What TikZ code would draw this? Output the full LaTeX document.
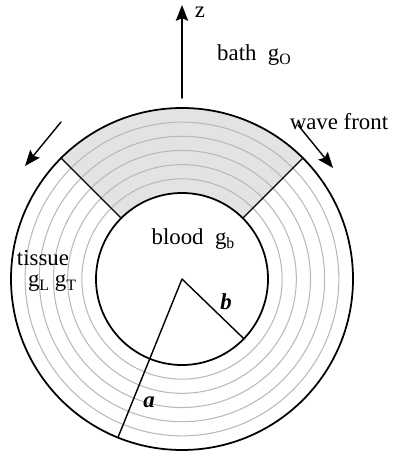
\documentclass[tikz,border=0pt]{standalone}
\usepackage{fontspec}
\setmainfont{Liberation Serif}
\usetikzlibrary{arrows.meta}
\newcommand\gsub[1]{g\raisebox{-0.4ex}{\small #1}}
\tikzset{
  ring/.style={gray!55,line width=0.6},
  rim/.style={black,line width=1.0},
  lbl/.style={inner sep=1pt,font=\fontsize{13}{15}\selectfont},
}
\begin{document}
\begin{tikzpicture}[x=0.02cm,y=0.02cm,line join=round,line cap=round,>={Stealth[length=9pt,width=7pt,inset=1.5pt]},line width=0.8]
  \useasboundingbox (-182,279) rectangle (212,-176);
  % shaded part between the wave fronts
  \fill[gray!22] (45:86) arc (45:135:86) -- (135:171) arc (135:45:171) -- cycle;
  \foreach \k in {1,...,5}
    \draw[ring] (0,0) circle ({86+14.17*\k});
  \draw[rim] (0,0) circle (171);
  \draw[rim] (0,0) circle (86);
  \draw (45:86) -- (45:171) (135:86) -- (135:171);
  % radii
  \coordinate (o) at (0,0);
  \coordinate (ra) at (248:171);
  \coordinate (rb) at (316:86);
  \draw (ra) -- (o) -- (rb);
  \node[lbl,font=\fontsize{13}{15}\selectfont\bfseries\itshape] (a) at (-33,-123) {a};
  \node[lbl,font=\fontsize{13}{15}\selectfont\bfseries\itshape] (b) at (44,-23) {b};
  % axis and labels
  \coordinate (zs) at (0,181);
  \coordinate (ze) at (0,274);
  \draw[->,line width=0.9] (zs) -- (ze);
  \node[lbl] (z) at (18,267) {z};
  \node[lbl] (bath) at (72,224) {bath\ \ \gsub{O}};
  \node[lbl] (wave) at (157,157) {wave front};
  \node[lbl] (blood) at (11,40) {blood\ \ \gsub{b}};
  \node[lbl] (tissue) at (-139,21) {tissue};
  \node[lbl] (gLT) at (-130,-4) {\gsub{L} \gsub{T}};
  % propagation of the front
  \coordinate (l1) at (-121,157);
  \coordinate (l2) at (-157,113);
  \coordinate (r1) at (116,154);
  \coordinate (r2) at (151,111);
  \draw[->] (l1) -- (l2);
  \draw[->] (r1) -- (r2);
\end{tikzpicture}
\end{document}
